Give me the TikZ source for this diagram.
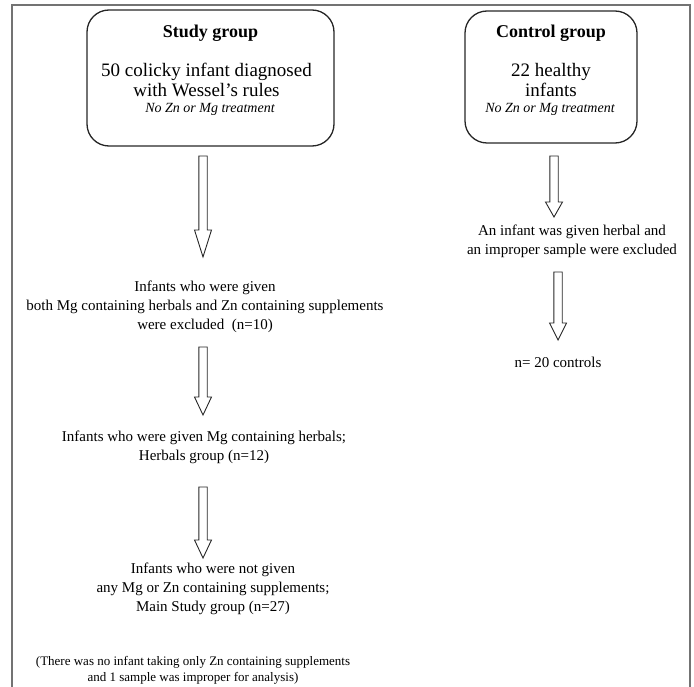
\documentclass[tikz,border=0pt]{standalone}
\usepackage{fontspec}
\setmainfont{Liberation Serif}
\begin{document}
\begin{tikzpicture}[x=1pt,y=-1pt,
  frame/.style={draw=black!55,line width=1.5pt},
  grpbox/.style={draw=black!85,line width=1.3pt,rounded corners=22pt,inner sep=0pt},
  ttl/.style={inner sep=0pt,font=\fontsize{18}{22}\selectfont\bfseries},
  big/.style={inner sep=0pt,align=center,font=\fontsize{19}{20}\selectfont},
  ital/.style={inner sep=0pt,font=\fontsize{14}{17}\selectfont\itshape},
  txt/.style={inner sep=0pt,align=center,font=\fontsize{15}{19}\selectfont},
  note/.style={inner sep=0pt,align=center,font=\fontsize{13}{16}\selectfont},
  arrowline/.style={draw=black!85,line width=0.9pt,line join=miter},
  pics/barrow/.style n args={2}{code={
    \draw[arrowline] (-4.2,0) -- (4.2,0) -- (4.2,#1) -- (8.5,#1) -- (0,#2)
      -- (-8.5,#1) -- (-4.2,#1) -- cycle;
  }}
]
\useasboundingbox (0,0) rectangle (694,687);
% frame
\draw[frame] (12,687) -- (12,5) -- (690,5) -- (690,687);

% study group box
\node[grpbox,minimum width=247pt,minimum height=136pt] (sbox) at (210.5,78) {};
\node[ttl] (stitle) at (210.5,33) {Study group};
\node[big] (sbody) at (206.5,80) {50 colicky infant diagnosed\\with Wessel’s rules};
\node[ital] (snote) at (210,109.5) {No Zn or Mg treatment};

% control group box
\node[grpbox,minimum width=172pt,minimum height=132pt] (cbox) at (551,77) {};
\node[ttl] (ctitle) at (551,33) {Control group};
\node[big] (cbody) at (551,80) {22 healthy\\infants};
\node[ital] (cnote) at (550,109.5) {No Zn or Mg treatment};

% study flow
\pic at (203,156) {barrow={74}{101}};
\node[txt] (s1) at (205,307) {Infants who were given\\both Mg containing herbals and Zn containing supplements\\were excluded~~(n=10)};
\pic at (203,347) {barrow={50}{68}};
\node[txt] (s2) at (204,447) {Infants who were given Mg containing herbals;\\Herbals group (n=12)};
\pic at (203,487) {barrow={53}{71}};
\node[txt] (s3) at (213,589) {Infants who were not given\\any Mg or Zn containing supplements;\\Main Study group (n=27)};
\node[note] (snote2) at (193,670) {(There was no infant taking only Zn containing supplements\\and 1 sample was improper for analysis)};

% control flow
\pic at (554,156) {barrow={46}{61}};
\node[txt] (c1) at (572,241) {An infant was given herbal and\\an improper sample were excluded};
\pic at (558,272) {barrow={51}{68}};
\node[txt] (c2) at (558,362) {n= 20 controls};
\end{tikzpicture}
\end{document}
